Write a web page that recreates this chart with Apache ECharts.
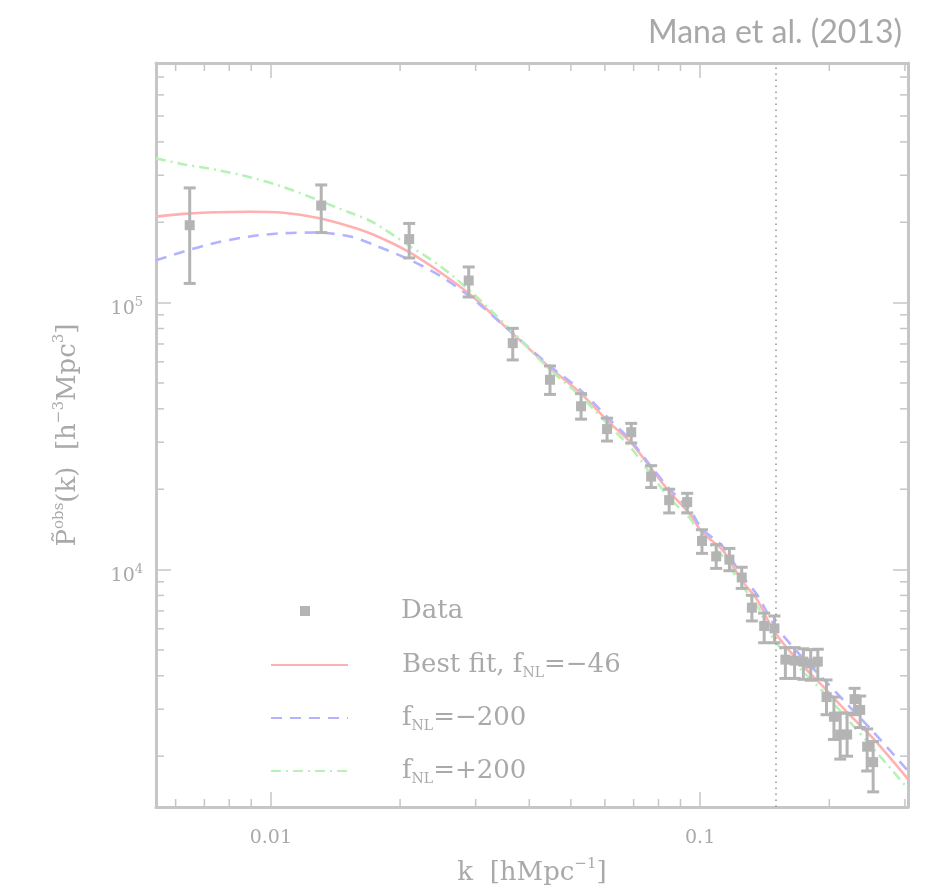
<!DOCTYPE html>
<html>
<head>
<meta charset="utf-8">
<title>Power spectrum with f_NL fits</title>
<script src="https://cdn.jsdelivr.net/npm/echarts@6/dist/echarts.min.js"></script>
<style>
  html, body { margin: 0; padding: 0; background: #ffffff; }
  #chart { width: 938px; height: 891px; }
</style>
</head>
<body>
<div id="chart"></div>
<script>
// Measured band powers: wavenumber k [h/Mpc], P(k) and the ends of the error bars
const kData = [0.00647, 0.0131, 0.0210, 0.0289, 0.0366, 0.0447, 0.0528, 0.0607, 0.0691, 0.0769,
  0.0847, 0.0933, 0.101, 0.109, 0.117, 0.125, 0.132, 0.141, 0.149, 0.158,
  0.166, 0.174, 0.181, 0.188, 0.197, 0.205, 0.212, 0.220, 0.229, 0.236,
  0.245, 0.253];
const pData = [1.95e5, 2.31e5, 1.73e5, 1.21e5, 7.05e4, 5.14e4, 4.09e4, 3.36e4, 3.27e4, 2.23e4,
  1.82e4, 1.79e4, 1.28e4, 1.12e4, 1.09e4, 9340, 7200, 6150, 6020, 4600,
  4560, 4520, 4450, 4520, 3330, 2810, 2410, 2410, 3270, 2980,
  2170, 1900];
const pLow = [1.18e5, 1.83e5, 1.47e5, 1.05e5, 6.1e4, 4.53e4, 3.66e4, 3.03e4, 2.98e4, 2.03e4,
  1.63e4, 1.63e4, 1.15e4, 1.01e4, 9900, 8500, 6420, 5320, 5320, 3910,
  3910, 3880, 3850, 3880, 2860, 2310, 1950, 2000, 2860, 2560,
  1760, 1470];
const pHigh = [2.69e5, 2.76e5, 1.98e5, 1.36e5, 8.01e4, 5.79e4, 4.56e4, 3.69e4, 3.53e4, 2.45e4,
  2.0e4, 1.93e4, 1.41e4, 1.24e4, 1.20e4, 1.02e4, 8010, 6870, 6700, 5100,
  5100, 5050, 5010, 5030, 3860, 3330, 2900, 2900, 3590, 3360,
  2530, 2270];

// Model spectra sampled on a common k grid
const kModel = [0.0054, 0.00624, 0.00748, 0.00894, 0.0107, 0.0128, 0.0153, 0.0173, 0.0208, 0.0248,
  0.0296, 0.0355, 0.0447, 0.0528, 0.0607, 0.0691, 0.0769, 0.0847, 0.0948, 0.101,
  0.113, 0.125, 0.136, 0.148, 0.169, 0.194, 0.221, 0.253, 0.305];
const pBestFit = [2.10e5, 2.15e5, 2.18e5, 2.19e5, 2.17e5, 2.08e5, 1.93e5, 1.80e5, 1.56e5, 1.30e5,
  1.05e5, 8.01e4, 5.70e4, 4.56e4, 3.62e4, 2.98e4, 2.39e4, 1.96e4, 1.61e4, 1.38e4,
  1.18e4, 9110, 7680, 5940, 4560, 3630, 2900, 2330, 1640];
const pMinus200 = [1.44e5, 1.55e5, 1.68e5, 1.77e5, 1.82e5, 1.83e5, 1.77e5, 1.65e5, 1.46e5, 1.26e5,
  1.03e5, 8.01e4, 5.79e4, 4.68e4, 3.73e4, 3.03e4, 2.43e4, 2.01e4, 1.67e4, 1.42e4,
  1.22e4, 9500, 8010, 6310, 4890, 3880, 3110, 2470, 1760];
const pPlus200 = [3.47e5, 3.30e5, 3.14e5, 2.95e5, 2.71e5, 2.43e5, 2.17e5, 2.00e5, 1.65e5, 1.37e5,
  1.08e5, 8.15e4, 5.60e4, 4.45e4, 3.53e4, 2.85e4, 2.27e4, 1.86e4, 1.55e4, 1.33e4,
  1.12e4, 8730, 7300, 5510, 4340, 3470, 2740, 2140, 1510];

// Axis ranges, minor tick values and the k cut marked by the dotted line
const kRange = [0.0054, 0.305];
const pRange = [1290, 7.9e5];
const kMinorTicks = [0.006, 0.007, 0.008, 0.009, 0.02, 0.03, 0.04, 0.05, 0.06, 0.07, 0.08, 0.09, 0.2, 0.3];
const pMinorTicks = [2000, 3000, 4000, 5000, 6000, 7000, 8000, 9000,
  20000, 30000, 40000, 50000, 60000, 70000, 80000, 90000,
  200000, 300000, 400000, 500000, 600000, 700000];
const kCut = 0.15;

const GRAY = '#a9a9a9';
const FRAME = '#c6c6c6';
const POINT = '#b4b4b4';
const SERIF = '"DejaVu Serif", "Liberation Serif", serif';

const chart = echarts.init(document.getElementById('chart'), null, { renderer: 'canvas' });

function isDecade(v) {
  const l = Math.log10(v);
  return Math.abs(l - Math.round(l)) < 1e-6;
}

function minorTicksX(params, api) {
  const cs = params.coordSys;
  const x = api.coord([api.value(0), pRange[0]])[0];
  const bottom = cs.y + cs.height, top = cs.y, len = 8;
  const style = { stroke: FRAME, lineWidth: 1.5 };
  return { type: 'group', children: [
    { type: 'line', shape: { x1: x, y1: bottom, x2: x, y2: bottom - len }, style },
    { type: 'line', shape: { x1: x, y1: top, x2: x, y2: top + len }, style }
  ]};
}

function minorTicksY(params, api) {
  const cs = params.coordSys;
  const y = api.coord([kRange[0], api.value(1)])[1];
  const left = cs.x, right = cs.x + cs.width, len = 8;
  const style = { stroke: FRAME, lineWidth: 1.5 };
  return { type: 'group', children: [
    { type: 'line', shape: { x1: left, y1: y, x2: left + len, y2: y }, style },
    { type: 'line', shape: { x1: right, y1: y, x2: right - len, y2: y }, style }
  ]};
}

function errorBar(params, api) {
  const k = api.value(0);
  const a = api.coord([k, api.value(1)]);
  const b = api.coord([k, api.value(2)]);
  const half = 6;
  const style = { stroke: POINT, lineWidth: 3 };
  return { type: 'group', children: [
    { type: 'line', shape: { x1: a[0], y1: a[1], x2: b[0], y2: b[1] }, style },
    { type: 'line', shape: { x1: a[0] - half, y1: a[1], x2: a[0] + half, y2: a[1] }, style },
    { type: 'line', shape: { x1: b[0] - half, y1: b[1], x2: b[0] + half, y2: b[1] }, style }
  ]};
}

const legendText = {
  'Data': '{a|Data}',
  'Best fit': '{a|Best fit, f}{s|NL}{a|=−46}',
  'fNL=-200': '{a|f}{s|NL}{a|=−200}',
  'fNL=+200': '{a|f}{s|NL}{a|=+200}'
};
const legendRich = {
  a: { fontFamily: SERIF, fontSize: 26, color: GRAY, lineHeight: 30 },
  s: { fontFamily: SERIF, fontSize: 14, color: GRAY, lineHeight: 6, verticalAlign: 'bottom' }
};
// One legend block per row; the line rows use a 2px tall icon so only the stroke shows
function legendRow(name, centerY, isPoint) {
  return {
    data: [name],
    orient: 'vertical',
    left: isPoint ? 300 : 270,
    top: centerY - 10,
    padding: 0,
    itemWidth: isPoint ? 10 : 77,
    itemHeight: isPoint ? 10 : 2,
    selectedMode: false,
    formatter: n => legendText[n],
    textStyle: { padding: [0, 0, 0, isPoint ? 86 : 49], rich: legendRich }
  };
}

const axisCommon = {
  type: 'log',
  logBase: 10,
  splitLine: { show: false },
  axisLine: { show: true, onZero: false, lineStyle: { color: FRAME, width: 3 } },
  axisTick: { show: true, inside: true, length: 15, lineStyle: { color: FRAME, width: 1.5 } }
};

const nameRich = {
  a: { fontFamily: SERIF, fontSize: 26, color: GRAY, lineHeight: 32 },
  e: { fontFamily: SERIF, fontSize: 15, color: GRAY, lineHeight: 10, verticalAlign: 'top' }
};

const option = {
  backgroundColor: '#ffffff',
  animation: false,
  title: {
    text: 'Mana et al. (2013)',
    right: 31,
    top: 12,
    textStyle: { fontFamily: 'Lato, "Open Sans", sans-serif', fontSize: 32, fontWeight: 'normal', color: '#a8a8a8' }
  },
  grid: { left: 156, right: 30, top: 63, bottom: 75, containLabel: false },
  legend: [
    legendRow('Data', 608, true),
    legendRow('Best fit', 662, false),
    legendRow('fNL=-200', 715, false),
    legendRow('fNL=+200', 768, false)
  ],
  xAxis: [
    Object.assign({}, axisCommon, {
      position: 'bottom',
      min: kRange[0], max: kRange[1],
      name: '{a|k  [hMpc}{e|−1}{a|]}',
      nameLocation: 'middle',
      nameGap: 50,
      nameTextStyle: { rich: nameRich },
      axisLabel: {
        show: true, margin: 22, color: GRAY, fontFamily: SERIF, fontSize: 19,
        showMinLabel: false, showMaxLabel: false,
        formatter: v => isDecade(v) ? String(Number(v.toPrecision(6))) : ''
      }
    }),
    Object.assign({}, axisCommon, {
      position: 'top',
      min: kRange[0], max: kRange[1],
      axisLabel: { show: false }
    })
  ],
  yAxis: [
    Object.assign({}, axisCommon, {
      position: 'left',
      min: pRange[0], max: pRange[1],
      name: '{a|P̃}{e|obs}{a|(k)  [h}{e|−3}{a|Mpc}{e|3}{a|]}',
      nameLocation: 'middle',
      nameRotate: 90,
      nameGap: 72,
      nameTextStyle: { rich: nameRich },
      axisLabel: {
        show: true, margin: 13, color: GRAY,
        showMinLabel: false, showMaxLabel: false,
        padding: [12, 0, 0, 0],
        formatter: v => isDecade(v) ? '{b|10}{e|' + Math.round(Math.log10(v)) + '}' : '',
        rich: {
          b: { fontFamily: SERIF, fontSize: 19, color: GRAY, lineHeight: 24 },
          e: { fontFamily: SERIF, fontSize: 13, color: GRAY, lineHeight: 8, verticalAlign: 'top' }
        }
      }
    }),
    Object.assign({}, axisCommon, {
      position: 'right',
      min: pRange[0], max: pRange[1],
      axisLabel: { show: false }
    })
  ],
  series: [
    {
      type: 'custom', name: 'kTicks', silent: true,
      xAxisIndex: 0, yAxisIndex: 0,
      renderItem: minorTicksX,
      encode: { x: 0, y: 1 },
      data: kMinorTicks.map(v => [v, pRange[0]]),
      clip: false, z: 1
    },
    {
      type: 'custom', name: 'pTicks', silent: true,
      xAxisIndex: 0, yAxisIndex: 0,
      renderItem: minorTicksY,
      encode: { x: 0, y: 1 },
      data: pMinorTicks.map(v => [kRange[0], v]),
      clip: false, z: 1
    },
    {
      type: 'line', name: 'Best fit',
      data: kModel.map((k, i) => [k, pBestFit[i]]),
      showSymbol: false, symbol: 'none', smooth: 0.3,
      lineStyle: { color: '#ffb1b1', width: 2.6, type: 'solid' },
      itemStyle: { color: '#ffb1b1' },
      z: 3,
      markLine: {
        silent: true, symbol: 'none', animation: false,
        label: { show: false },
        lineStyle: { color: '#999999', width: 1.6, type: [1.6, 4.4] },
        data: [{ xAxis: kCut }]
      }
    },
    {
      type: 'line', name: 'fNL=-200',
      data: kModel.map((k, i) => [k, pMinus200[i]]),
      showSymbol: false, symbol: 'none', smooth: 0.3,
      lineStyle: { color: '#b3b3ff', width: 2.6, type: [11, 8] },
      itemStyle: { color: '#b3b3ff' },
      z: 3
    },
    {
      type: 'line', name: 'fNL=+200',
      data: kModel.map((k, i) => [k, pPlus200[i]]),
      showSymbol: false, symbol: 'none', smooth: 0.3,
      lineStyle: { color: '#b6f2b6', width: 2.6, type: [10, 5, 2, 5] },
      itemStyle: { color: '#b6f2b6' },
      z: 3
    },
    {
      type: 'custom', name: 'errors', silent: true,
      renderItem: errorBar,
      encode: { x: 0, y: [1, 2] },
      data: kData.map((k, i) => [k, pLow[i], pHigh[i]]),
      z: 4
    },
    {
      type: 'scatter', name: 'Data',
      data: kData.map((k, i) => [k, pData[i]]),
      symbol: 'rect', symbolSize: 10,
      itemStyle: { color: POINT, opacity: 1 },
      z: 5
    }
  ]
};

chart.setOption(option);
</script>
</body>
</html>
